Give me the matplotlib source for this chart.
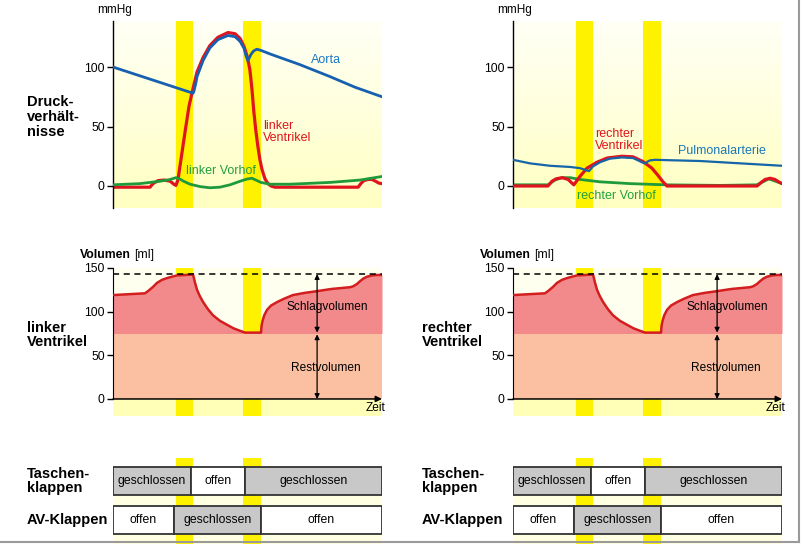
import numpy as np
import matplotlib.pyplot as plt
from matplotlib.patches import Rectangle
from matplotlib.colors import LinearSegmentedColormap

plt.rcParams['font.family'] = ['Liberation Sans', 'DejaVu Sans']

# ----------------------------
# Data (time in ms over one cardiac cycle)
# ----------------------------
contraction = (187, 238)   # isovolumetric contraction
relaxation = (387, 440)    # isovolumetric relaxation

# left heart pressures (mmHg)
lv_t = [0, 110, 119, 134, 152, 170, 181, 187, 193, 202, 214, 226, 238, 250, 268,
        288, 312, 342, 363, 378, 390, 399, 407, 413, 419, 425, 431, 437, 443, 452,
        461, 470, 482, 729, 737, 746, 758, 770, 781, 790, 800]
lv_p = [-1, -1, 2, 4.5, 5, 4, 1.5, 0.5, 5, 22, 45, 67, 82, 96, 108,
        118, 125, 129, 128, 124, 117, 109, 98, 82, 62, 46, 33, 22, 14, 6,
        2, 0, -1, -1, 2, 4.5, 5.5, 5.5, 4, 2.5, 2]
ao_t = [0, 238, 240, 246, 250, 268, 288, 312, 342, 363, 378, 390, 396, 401, 405,
        410, 418, 428, 440, 467, 556, 645, 720, 800]
ao_p = [100, 78, 79, 86, 92, 105.5, 116, 123, 126.5, 125.5, 121.5, 115.5, 109, 105.5, 107.5,
        110.5, 113.5, 115, 114, 111, 102, 92, 83, 75]
la_t = [0, 80, 140, 170, 187, 198, 210, 229, 259, 288, 318, 348, 378, 398, 413,
        425, 440, 467, 526, 645, 735, 800]
la_p = [1, 2, 4, 5.5, 7, 6, 4, 1.5, -0.5, -1.5, -1, 1, 4, 5.8, 6.5,
        5, 3, 1.5, 1.5, 3, 5, 8]

# right heart pressures (mmHg)
rv_t = [0, 104, 116, 128, 146, 164, 175, 181, 199, 220, 250, 280, 324, 357, 387,
        413, 431, 446, 458, 726, 738, 750, 765, 779, 790, 800]
rv_p = [0, 0, 4, 6, 7, 5.5, 2.5, 1, 8, 15, 20, 23.5, 25, 24.5, 20.5,
        15, 9, 3.5, 0, 0, 3, 5.5, 6.5, 5.5, 3.5, 2]
pa_t = [0, 51, 110, 170, 199, 226, 238, 259, 288, 324, 357, 387, 393, 400, 407,
        422, 556, 800]
pa_p = [22, 19, 17, 16, 15, 12.5, 16.5, 20, 23, 24, 23.5, 19.5, 19, 20.5, 21.5,
        22, 21, 17]
ra_t = [0, 104, 125, 146, 170, 199, 259, 348, 452, 616, 726, 761, 800]
ra_p = [1, 1, 5, 7, 7, 5.5, 3.5, 2, 1, 0.5, 1, 6, 2]

# ventricular volume (ml), same course for both ventricles
vol_t = [0, 95, 104, 118, 131, 146, 161, 175, 190, 238, 244, 250, 258, 268, 282,
         297, 318, 339, 358, 378, 393, 440, 442, 445, 450, 458, 470, 488, 510, 535,
         570, 607, 650, 705, 714, 725, 735, 745, 755, 770, 785, 800]
vol_v = [119, 121, 123.5, 128, 133, 136.5, 138.5, 140, 141.5, 142.5, 133, 125, 118, 111, 103,
         96, 89.5, 85, 81, 78, 76, 76, 84, 90, 96, 102, 107, 111, 115, 119,
         121.5, 123.5, 126, 128, 129, 131.5, 135, 138, 140, 141.5, 142, 142]
edv = 143        # end-diastolic volume
esv = 75         # residual volume

# valve states: segment boundaries (ms) and labels
taschen_edges = [0, 232, 392, 800]
taschen_labels = ["geschlossen", "offen", "geschlossen"]
taschen_closed = [True, False, True]
av_edges = [0, 181, 440, 800]
av_labels = ["offen", "geschlossen", "offen"]
av_closed = [False, True, False]

W, H = 803, 544
BAND = '#FFF200'
bg_cmap = LinearSegmentedColormap.from_list('bg', ['#FFFFC2', '#FFFFF6'])


def px_axes(fig, x0, y0, x1, y1):
    # axes from pixel box (top-left origin)
    return fig.add_axes([x0 / W, 1 - y1 / H, (x1 - x0) / W, (y1 - y0) / H])


def bands(ax):
    for a, b in (contraction, relaxation):
        ax.axvspan(a, b, color=BAND, lw=0, zorder=1)


def pressure_panel(fig, x0, lines, labels):
    ax = px_axes(fig, x0, 21, x0 + 269, 208)
    ylo, yhi = -18.5, 138.7
    grad = np.linspace(0, 1, 256).reshape(-1, 1)
    ax.imshow(grad, extent=(0, 800, ylo, yhi), aspect='auto', cmap=bg_cmap,
              origin='lower', zorder=0)
    bands(ax)
    for t, p, c, lw, z in lines:
        ax.plot(t, p, color=c, lw=lw, solid_capstyle='round', solid_joinstyle='round', zorder=z)
    for txt, x, y, c in labels:
        ax.text(x, y, txt, color=c, fontsize=9, ha='left', va='center',
                linespacing=1.0, zorder=5)
    ax.set_xlim(0, 800)
    ax.set_ylim(ylo, yhi)
    for s in ('top', 'right', 'bottom'):
        ax.spines[s].set_visible(False)
    ax.spines['left'].set_linewidth(1)
    ax.set_xticks([])
    ax.set_yticks([0, 50, 100])
    ax.tick_params(axis='y', length=4, width=1, labelsize=8.8, pad=2)
    fig.text((x0 - 16) / W, 1 - 10 / H, "mmHg", fontsize=8.5, va='center')
    return ax


def volume_panel(fig, x0):
    ax = px_axes(fig, x0, 268, x0 + 269, 416)
    ylo, yhi = -19.5, 150
    ax.axhspan(ylo, 0, color='#FFFFB8', lw=0, zorder=0)
    ax.axhspan(0, yhi, color='#FFFFF0', lw=0, zorder=0)
    bands(ax)
    t = np.array(vol_t, dtype=float)
    v = np.array(vol_v, dtype=float)
    ax.fill_between(t, 0, esv, color='#FBC0A2', lw=0, zorder=2)
    ax.fill_between(t, esv, v, color='#F28A8C', lw=0, zorder=2)
    ax.plot(t, v, color='#D21E1E', lw=1.8, solid_joinstyle='round', zorder=3)
    ax.plot([0, 800], [edv, edv], color='black', lw=1.1, ls=(0, (4, 3)), zorder=4)
    ax.annotate('', xy=(800, 0), xytext=(0, 0),
                arrowprops=dict(arrowstyle='-|>', color='black', lw=1.1,
                                mutation_scale=9, shrinkA=0, shrinkB=0), zorder=5)
    ax.annotate('', xy=(607, edv), xytext=(607, esv + 1),
                arrowprops=dict(arrowstyle='<|-|>', color='black', lw=0.9,
                                mutation_scale=7, shrinkA=0, shrinkB=0), zorder=4)
    ax.annotate('', xy=(607, esv - 1), xytext=(607, 0),
                arrowprops=dict(arrowstyle='<|-|>', color='black', lw=0.9,
                                mutation_scale=7, shrinkA=0, shrinkB=0), zorder=4)
    ax.text(636, 105, "Schlagvolumen", fontsize=8.6, ha='center', va='center', zorder=6)
    ax.text(632, 35, "Restvolumen", fontsize=8.6, ha='center', va='center', zorder=6)
    ax.text(780, -10, "Zeit", fontsize=8.6, ha='center', va='center', zorder=6)
    ax.set_xlim(0, 800)
    ax.set_ylim(ylo, yhi)
    for s in ('top', 'right', 'bottom'):
        ax.spines[s].set_visible(False)
    ax.spines['left'].set_bounds(0, 150)
    ax.set_xticks([])
    ax.set_yticks([0, 50, 100, 150])
    ax.tick_params(axis='y', length=4, width=1, labelsize=8.8, pad=2)
    fig.text((x0 - 33) / W, 1 - 255 / H, "Volumen", fontsize=8.8, weight='bold', va='center')
    fig.text((x0 + 21) / W, 1 - 255 / H, "[ml]", fontsize=8.8, va='center')
    return ax


def valve_panel(fig, x0):
    ax = px_axes(fig, x0, 458, x0 + 269, 544)
    ax.set_xlim(0, 800)
    ax.set_ylim(544, 458)
    ax.axis('off')
    ax.axhspan(495, 544, color='#FFFFE2', lw=0, zorder=0)
    bands(ax)
    rows = [(467, taschen_edges, taschen_labels, taschen_closed),
            (506, av_edges, av_labels, av_closed)]
    for y, edges, labs, closed in rows:
        for i, lab in enumerate(labs):
            a, b = edges[i], edges[i + 1]
            ax.add_patch(Rectangle((a, y), b - a, 28, facecolor='#C8C8C8' if closed[i] else 'white',
                                   edgecolor='#333333', lw=1.3, zorder=3))
            ax.text((a + b) / 2, y + 14, lab, fontsize=8.8, ha='center', va='center', zorder=4)
    return ax


fig = plt.figure(figsize=(W / 100, H / 100), dpi=100)

# red ventricle drawn first, vessel on top so both stay visible during ejection
pressure_panel(fig, 113,
               [(lv_t, lv_p, '#E0141E', 2.3, 2), (ao_t, ao_p, '#1560B0', 2.0, 3),
                (la_t, la_p, '#1E9A3C', 2.0, 3)],
               [("Aorta", 588, 106, '#1A78C8'), ("linker\nVentrikel", 447, 45, '#E0141E'),
                ("linker Vorhof", 218, 13, '#22A040')])
pressure_panel(fig, 513,
               [(ra_t, ra_p, '#1E9A3C', 2.0, 2), (rv_t, rv_p, '#E0141E', 2.3, 3),
                (pa_t, pa_p, '#1565A8', 1.6, 4)],
               [("rechter\nVentrikel", 244, 39, '#E0141E'), ("Pulmonalarterie", 490, 29, '#1A78B8'),
                ("rechter Vorhof", 190, -8, '#22A040')])
volume_panel(fig, 113)
volume_panel(fig, 513)
valve_panel(fig, 113)
valve_panel(fig, 513)

bold = dict(fontsize=10.5, weight='bold', va='center', linespacing=1.05)
fig.text(27 / W, 1 - 117 / H, "Druck-\nverhält-\nnisse", **bold)
fig.text(27 / W, 1 - 335 / H, "linker\nVentrikel", **bold)
fig.text(422 / W, 1 - 335 / H, "rechter\nVentrikel", **bold)
fig.text(27 / W, 1 - 481 / H, "Taschen-\nklappen", **bold)
fig.text(27 / W, 1 - 520 / H, "AV-Klappen", **bold)
fig.text(422 / W, 1 - 481 / H, "Taschen-\nklappen", **bold)
fig.text(422 / W, 1 - 520 / H, "AV-Klappen", **bold)

# thin grey frame at right and bottom
fig.add_artist(plt.Line2D([799 / W, 799 / W], [1 - 542 / H, 1], color='#9A9A9A', lw=1.5))
fig.add_artist(plt.Line2D([0, 799 / W], [1 - 542 / H, 1 - 542 / H], color='#9A9A9A', lw=1.5))

fig.savefig("out.png", dpi=100)
